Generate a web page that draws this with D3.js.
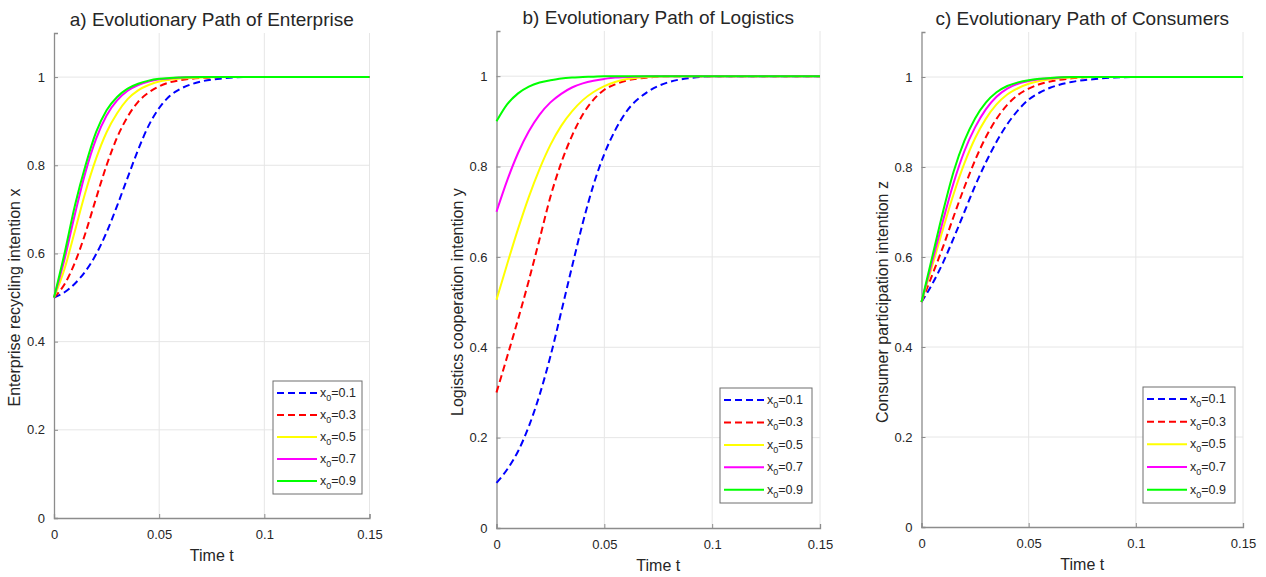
<!DOCTYPE html>
<html>
<head>
<meta charset="utf-8">
<script src="https://cdn.jsdelivr.net/npm/d3@7"></script>
<style>
  body { margin: 0; background: #fff; }
  text { font-family: "Liberation Sans", Arial, sans-serif; fill: #262626; }
</style>
</head>
<body>
<script>
// time samples
const tGrid = [0, 0.005, 0.01, 0.015, 0.02, 0.025, 0.03, 0.035, 0.04, 0.045, 0.05, 0.055, 0.06, 0.07, 0.08, 0.09, 0.1, 0.15];

const seriesLabels = ["0.1", "0.3", "0.5", "0.7", "0.9"];
const seriesColors = ["#0000ff", "#ff0000", "#ffff00", "#ff00ff", "#00ff00"];
const seriesDashed = [true, true, false, false, false];

const xTicks = [0, 0.05, 0.1, 0.15];
const yTicks = [0, 0.2, 0.4, 0.6, 0.8, 1];

// a) enterprise x
const enterpriseValues = [
  [0.5, 0.512, 0.532, 0.56, 0.598, 0.648, 0.708, 0.772, 0.835, 0.89, 0.93, 0.957, 0.973, 0.99, 0.997, 1, 1, 1],
  [0.5, 0.53, 0.58, 0.647, 0.725, 0.8, 0.863, 0.91, 0.944, 0.965, 0.979, 0.988, 0.993, 0.998, 1, 1, 1, 1],
  [0.5, 0.565, 0.652, 0.74, 0.815, 0.875, 0.918, 0.95, 0.97, 0.982, 0.99, 0.994, 0.997, 0.999, 1, 1, 1, 1],
  [0.5, 0.587, 0.69, 0.785, 0.86, 0.913, 0.947, 0.969, 0.982, 0.99, 0.995, 0.997, 0.999, 1, 1, 1, 1, 1],
  [0.5, 0.6, 0.71, 0.8, 0.875, 0.925, 0.955, 0.974, 0.985, 0.992, 0.996, 0.998, 0.999, 1, 1, 1, 1, 1]
];

// b) logistics y
const logisticsValues = [
  [0.1, 0.13, 0.17, 0.225, 0.295, 0.38, 0.478, 0.578, 0.675, 0.76, 0.828, 0.88, 0.92, 0.965, 0.987, 0.996, 1, 1],
  [0.3, 0.38, 0.462, 0.548, 0.64, 0.733, 0.808, 0.868, 0.915, 0.948, 0.97, 0.982, 0.99, 0.997, 1, 1, 1, 1],
  [0.505, 0.585, 0.662, 0.733, 0.795, 0.848, 0.89, 0.922, 0.947, 0.965, 0.978, 0.987, 0.993, 0.998, 1, 1, 1, 1],
  [0.7, 0.77, 0.83, 0.878, 0.915, 0.942, 0.961, 0.975, 0.984, 0.99, 0.994, 0.997, 0.998, 1, 1, 1, 1, 1],
  [0.9, 0.938, 0.962, 0.977, 0.986, 0.991, 0.995, 0.997, 0.998, 0.999, 1, 1, 1, 1, 1, 1, 1, 1]
];

// c) consumers z
const consumerValues = [
  [0.5, 0.54, 0.587, 0.642, 0.7, 0.758, 0.81, 0.856, 0.895, 0.926, 0.95, 0.965, 0.976, 0.989, 0.995, 0.999, 1, 1],
  [0.5, 0.56, 0.622, 0.69, 0.755, 0.815, 0.866, 0.907, 0.938, 0.96, 0.974, 0.984, 0.99, 0.997, 1, 1, 1, 1],
  [0.5, 0.58, 0.662, 0.74, 0.808, 0.864, 0.907, 0.939, 0.961, 0.975, 0.985, 0.991, 0.995, 0.999, 1, 1, 1, 1],
  [0.5, 0.59, 0.68, 0.765, 0.835, 0.888, 0.928, 0.956, 0.974, 0.985, 0.991, 0.995, 0.997, 1, 1, 1, 1, 1],
  [0.5, 0.6, 0.7, 0.79, 0.858, 0.908, 0.943, 0.966, 0.98, 0.988, 0.993, 0.996, 0.998, 1, 1, 1, 1, 1]
];

const panels = [
  { title: "a) Evolutionary Path of Enterprise", ylabel: "Enterprise recycling intention x",
    values: enterpriseValues, left: 54, right: 369.5, top: 33, bottom: 518,
    legend: { x: 273, y: 381, w: 89, h: 113 } },
  { title: "b) Evolutionary Path of Logistics", ylabel: "Logistics cooperation intention y",
    values: logisticsValues, left: 496.5, right: 820, top: 31, bottom: 528,
    legend: { x: 720, y: 388, w: 92, h: 115 } },
  { title: "c) Evolutionary Path of Consumers", ylabel: "Consumer participation intention z",
    values: consumerValues, left: 921.5, right: 1243, top: 32, bottom: 527,
    legend: { x: 1143, y: 387, w: 92, h: 116 } }
];

const svg = d3.select("body").append("svg")
  .attr("width", 1266)
  .attr("height", 577);

panels.forEach(p => {
  const x = d3.scaleLinear().domain([0, 0.15]).range([p.left, p.right]);
  const y = d3.scaleLinear().domain([0, 1.1]).range([p.bottom, p.top]);
  const g = svg.append("g");

  // grid
  g.selectAll(".gx").data(xTicks.slice(1)).enter().append("line")
    .attr("x1", d => x(d)).attr("x2", d => x(d))
    .attr("y1", p.bottom).attr("y2", p.top)
    .attr("stroke", "#e6e6e6").attr("stroke-width", 1);
  g.selectAll(".gy").data(yTicks.slice(1)).enter().append("line")
    .attr("x1", p.left).attr("x2", p.right)
    .attr("y1", d => y(d)).attr("y2", d => y(d))
    .attr("stroke", "#e6e6e6").attr("stroke-width", 1);

  // axes (ticks inside)
  const xAxis = g.append("g")
    .attr("transform", `translate(0,${p.bottom})`)
    .call(d3.axisBottom(x).tickValues(xTicks).tickSize(-4).tickPadding(12)
      .tickFormat(d => String(d)));
  const yAxis = g.append("g")
    .attr("transform", `translate(${p.left},0)`)
    .call(d3.axisLeft(y).tickValues(yTicks).tickSize(-4).tickPadding(9)
      .tickFormat(d => String(d)));
  [xAxis, yAxis].forEach(a => {
    a.select(".domain").attr("stroke", "#8c8c8c").attr("stroke-width", 1.3);
    a.selectAll(".tick line").attr("stroke", "#8c8c8c");
    a.selectAll(".tick text").attr("fill", "#404040").style("font-size", "13px")
      .style("font-family", "Liberation Sans, Arial, sans-serif");
  });

  // curves
  const line = d3.line()
    .x((d, i) => x(tGrid[i]))
    .y(d => y(d))
    .curve(d3.curveMonotoneX);
  p.values.forEach((vals, i) => {
    g.append("path")
      .datum(vals)
      .attr("fill", "none")
      .attr("stroke", seriesColors[i])
      .attr("stroke-width", 2)
      .attr("stroke-dasharray", seriesDashed[i] ? "7,4" : null)
      .attr("d", line);
  });

  // title
  g.append("text")
    .attr("x", (p.left + p.right) / 2)
    .attr("y", p.top - 7)
    .attr("text-anchor", "middle")
    .style("font-size", "19px")
    .text(p.title);

  // axis labels
  g.append("text")
    .attr("x", (p.left + p.right) / 2)
    .attr("y", p.bottom + 43)
    .attr("text-anchor", "middle")
    .style("font-size", "16px")
    .text("Time t");
  g.append("text")
    .attr("transform", `translate(${p.left - 34},${y(0.5)}) rotate(-90)`)
    .attr("text-anchor", "middle")
    .style("font-size", "16px")
    .text(p.ylabel);

  // legend
  const L = p.legend;
  const lg = g.append("g").attr("transform", `translate(${L.x},${L.y})`);
  lg.append("rect")
    .attr("width", L.w).attr("height", L.h)
    .attr("fill", "#fff").attr("stroke", "#6e6e6e").attr("stroke-width", 1);
  const step = (L.h - 14) / 4.5;
  seriesLabels.forEach((lab, i) => {
    const yy = 12 + i * step;
    lg.append("line")
      .attr("x1", 4).attr("x2", 44)
      .attr("y1", yy).attr("y2", yy)
      .attr("stroke", seriesColors[i]).attr("stroke-width", 2)
      .attr("stroke-dasharray", seriesDashed[i] ? "7,4" : null);
    const t = lg.append("text")
      .attr("x", 47).attr("y", yy + 4)
      .style("font-size", "12.5px");
    t.append("tspan").text("x");
    t.append("tspan").attr("dy", 4).style("font-size", "9px").text("0");
    t.append("tspan").attr("dy", -4).text("=" + lab);
  });
});
</script>
</body>
</html>
